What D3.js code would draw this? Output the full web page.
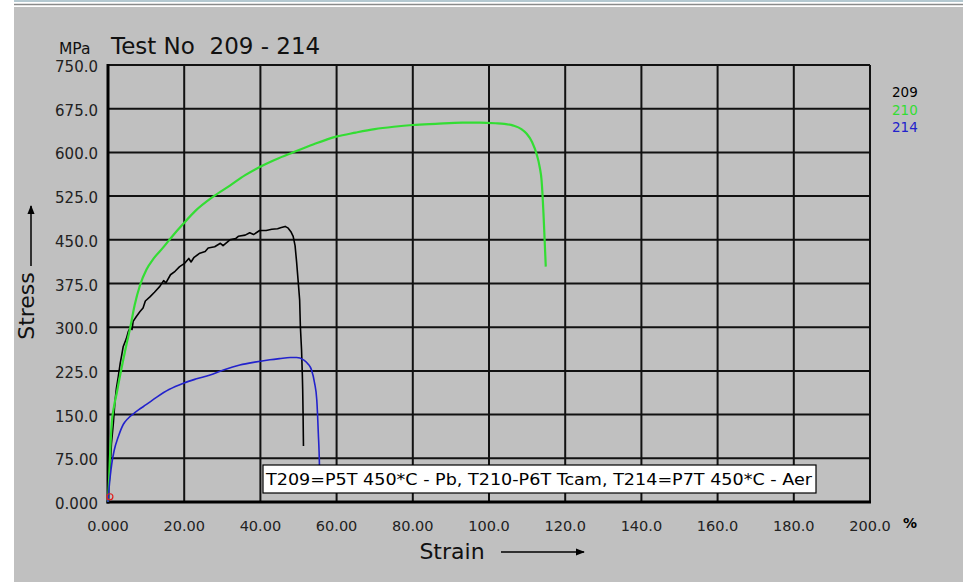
<!DOCTYPE html>
<html>
<head>
<meta charset="utf-8">
<script src="https://cdn.jsdelivr.net/npm/d3@7"></script>
<style>
  body { margin: 0; background: #fff; }
  text { font-family: 'DejaVu Sans', Verdana, sans-serif; }
</style>
</head>
<body>
<div id="content"></div>
<script>
var width = 963, height = 582

// data
var xTicks = [0, 20, 40, 60, 80, 100, 120, 140, 160, 180, 200]
var xTickLabels = ['0.000', '20.00', '40.00', '60.00', '80.00', '100.0', '120.0', '140.0', '160.0', '180.0', '200.0']
var yTicks = [0, 75, 150, 225, 300, 375, 450, 525, 600, 675, 750]
var yTickLabels = ['0.000', '75.00', '150.0', '225.0', '300.0', '375.0', '450.0', '525.0', '600.0', '675.0', '750.0']

var seriesNames = ['209', '210', '214']
var seriesColors = ['#000000', '#33dd33', '#2222cc']

// [strain %, stress MPa]
var test209 = [[0, 0], [0.2, 20], [0.4, 45], [0.6, 62], [0.9, 100], [1.4, 135], [1.8, 170], [2.2, 195], [2.7, 215],
    [3.2, 238], [3.6, 252], [4.0, 267], [4.8, 280], [5.3, 292], [5.8, 299], [6.3, 296], [6.6, 310], [7.4, 318],
    [8.4, 327], [9.2, 333], [9.8, 345], [11, 352], [12.2, 360], [13.6, 370], [14.6, 380], [15.2, 376], [16.4, 390],
    [17.6, 396], [18.8, 404], [20, 409], [21.2, 418], [21.8, 412], [22.6, 420], [24.1, 427], [25.5, 430], [26.3, 436],
    [28, 438], [29.5, 444], [30.2, 440], [32, 450], [33.5, 452], [34.2, 456], [36, 458], [37.2, 462], [38.2, 459],
    [39.8, 466], [41.5, 466], [43, 468], [44.5, 469], [45.5, 471], [46.5, 473], [47.3, 470], [48, 464], [48.6, 456],
    [49.1, 440], [49.5, 412], [49.9, 380], [50.3, 347], [50.5, 300], [50.8, 261], [51.0, 220], [51.1, 193],
    [51.2, 150], [51.3, 96]]

var test210 = [[0, 0], [0.3, 40], [0.6, 90], [1.0, 136], [1.6, 165], [2.3, 187], [3.1, 215], [4.0, 244], [4.9, 272],
    [5.8, 298], [7, 338], [8.4, 372], [10.1, 399], [12, 418], [14.5, 437], [17, 457], [19.7, 477], [23, 500],
    [27.6, 524], [32, 543], [36, 561], [39.8, 575], [44, 588], [48.5, 600], [54, 614], [59.9, 627], [65, 634],
    [70, 640], [75, 644], [80, 647], [86, 649], [93, 651], [97.6, 651], [101.7, 650], [104, 649], [106.4, 646],
    [108.5, 640], [109.9, 632], [111.3, 618], [112.5, 597], [113.3, 575], [113.8, 552], [114.3, 495], [114.6, 450],
    [114.9, 404]]

var test214 = [[0, 0], [0.3, 25], [0.6, 45], [1.0, 66], [1.6, 88], [2.7, 112], [4.0, 133], [5.2, 143], [6.6, 151],
    [8, 158], [10, 167], [12.8, 180], [16, 193], [19.8, 204], [23, 211], [26.8, 218], [30.5, 227],
    [34.6, 235], [38.5, 240], [42.5, 244], [45, 246], [47.8, 248], [49.5, 248], [51.3, 244], [52.5, 237],
    [53.4, 227], [54.2, 205], [54.8, 175], [55.2, 118], [55.5, 61], [55.6, 20]]

var series = [test209, test210, test214]
var startMark = [[0.5, 9]]

var note = 'T209=P5T 450*C - Pb, T210-P6T Tcam, T214=P7T 450*C - Aer'

// svg
var svg = d3.select('#content')
    .append('svg')
    .attr('width', width)
    .attr('height', height)

svg.append('rect').attr('width', width).attr('height', height).attr('fill', '#fff')
svg.append('rect').attr('x', 14).attr('y', 0).attr('width', width - 14).attr('height', 2).attr('fill', '#b4c8d0')
svg.append('line').attr('x1', 14).attr('x2', width).attr('y1', 4.5).attr('y2', 4.5)
    .attr('stroke', '#8a8a8a').attr('stroke-width', 1.5)
svg.append('rect').attr('x', 14).attr('y', 7).attr('width', width - 14).attr('height', height - 7).attr('fill', '#c0c0c0')

var x = d3.scaleLinear().domain([0, 200]).range([108, 870])
var y = d3.scaleLinear().domain([0, 750]).range([502, 65])

// grid
var grid = svg.append('g').attr('stroke', '#111').attr('stroke-width', 2)
grid.selectAll('.vx').data(xTicks).join('line')
    .attr('x1', d => x(d)).attr('x2', d => x(d))
    .attr('y1', y(750)).attr('y2', y(0))
grid.selectAll('.hy').data(yTicks).join('line')
    .attr('x1', x(0)).attr('x2', x(200))
    .attr('y1', d => y(d)).attr('y2', d => y(d))

// axes (thick)
svg.append('line').attr('x1', x(0)).attr('x2', x(0)).attr('y1', y(750) - 1).attr('y2', y(0) + 1.5)
    .attr('stroke', '#000').attr('stroke-width', 3)
svg.append('line').attr('x1', x(0) - 1.5).attr('x2', x(200) + 1).attr('y1', y(0)).attr('y2', y(0))
    .attr('stroke', '#000').attr('stroke-width', 3)

// tick labels
svg.append('g').selectAll('text').data(yTicks).join('text')
    .attr('x', 98)
    .attr('y', d => y(d) + 2)
    .attr('text-anchor', 'end')
    .attr('dominant-baseline', 'central')
    .attr('font-size', 15)
    .attr('fill', '#222')
    .text((d, i) => yTickLabels[i])

svg.append('g').selectAll('text').data(xTicks).join('text')
    .attr('x', d => x(d))
    .attr('y', 526)
    .attr('text-anchor', 'middle')
    .attr('dominant-baseline', 'central')
    .attr('font-size', 14.5)
    .attr('fill', '#222')
    .text((d, i) => xTickLabels[i])

svg.append('text').attr('x', 910).attr('y', 523).attr('text-anchor', 'middle')
    .attr('dominant-baseline', 'central').attr('font-size', 14).attr('font-weight', 'bold').text('%')

// titles
svg.append('text').attr('x', 59).attr('y', 54).attr('font-size', 15.5).attr('fill', '#111').text('MPa')
svg.append('text').attr('x', 111).attr('y', 54).attr('font-size', 23).attr('fill', '#111')
    .text('Test No\u00a0\u00a0209 - 214')

// arrows
svg.append('defs')
    .append('marker')
    .attr('id', 'arrow')
    .attr('viewBox', '0 -5 10 10')
    .attr('refX', 9)
    .attr('refY', 0)
    .attr('markerUnits', 'userSpaceOnUse')
    .attr('markerWidth', 9)
    .attr('markerHeight', 9)
    .attr('orient', 'auto')
    .append('path')
    .attr('fill', '#000')
    .attr('d', 'M0,-4L10,0L0,4Z')

svg.append('text').attr('x', 452).attr('y', 551).attr('text-anchor', 'middle')
    .attr('dominant-baseline', 'central').attr('font-size', 22).attr('fill', '#111').text('Strain')
svg.append('line').attr('x1', 501).attr('x2', 584).attr('y1', 552).attr('y2', 552)
    .attr('stroke', '#000').attr('stroke-width', 1.5).attr('marker-end', 'url(#arrow)')

svg.append('text').attr('transform', 'translate(26,306) rotate(-90)').attr('text-anchor', 'middle')
    .attr('dominant-baseline', 'central').attr('font-size', 22).attr('fill', '#111').text('Stress')
svg.append('line').attr('x1', 31).attr('x2', 31).attr('y1', 266).attr('y2', 206)
    .attr('stroke', '#000').attr('stroke-width', 1.5).attr('marker-end', 'url(#arrow)')

// curves: the noisy 209 trace stays linear, the others are smoothed
var line = d3.line().x(d => x(d[0])).y(d => y(d[1]))
var smooth = d3.line().x(d => x(d[0])).y(d => y(d[1])).curve(d3.curveMonotoneX)
svg.append('g').selectAll('path').data(series).join('path')
    .attr('d', (d, i) => i == 0 ? line(d) : smooth(d))
    .attr('fill', 'none')
    .attr('stroke', (d, i) => seriesColors[i])
    .attr('stroke-width', (d, i) => i == 1 ? 2.2 : 1.6)
    .attr('stroke-linejoin', 'round')

svg.selectAll('.start').data(startMark).join('circle')
    .attr('cx', d => x(d[0])).attr('cy', d => y(d[1])).attr('r', 3)
    .attr('fill', 'none').attr('stroke', '#e02020').attr('stroke-width', 1.2)

// legend
svg.append('g').selectAll('text').data(seriesNames).join('text')
    .attr('x', 892)
    .attr('y', (d, i) => 92 + i * 17.5)
    .attr('dominant-baseline', 'central')
    .attr('font-size', 13.5)
    .attr('fill', (d, i) => seriesColors[i])
    .text(d => d)

// note box
svg.append('rect').attr('x', 263).attr('y', 465).attr('width', 553).attr('height', 28)
    .attr('fill', '#fff').attr('stroke', '#000').attr('stroke-width', 1.2)
svg.append('text').attr('x', 266).attr('y', 480).attr('dominant-baseline', 'central')
    .attr('font-size', 15.5).attr('textLength', 546).attr('lengthAdjust', 'spacingAndGlyphs')
    .attr('fill', '#000').text(note)
</script>
</body>
</html>
